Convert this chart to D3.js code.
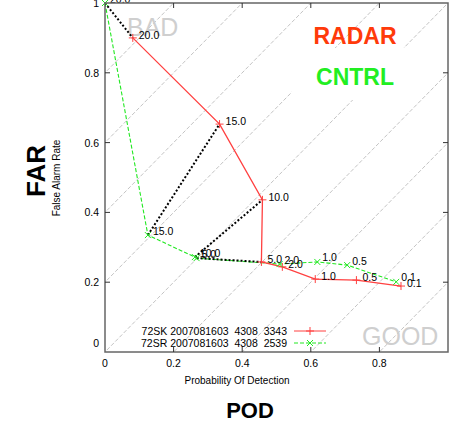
<!DOCTYPE html>
<html lang="en">
<head>
<meta charset="UTF-8">
<title>POD / FAR</title>
<script src="https://d3js.org/d3.v7.min.js"></script>
<style>
  body { margin: 0; background: #fff; }
  svg { display: block; font-family: "Liberation Sans", Arial, sans-serif; }
  .pre { white-space: pre; }
</style>
</head>
<body>
<div id="chart"></div>
<script>
// thresholds for the labels on each point
const thresholds = ["20.0", "15.0", "10.0", "5.0", "2.0", "1.0", "0.5", "0.1"];
// 72SK (radar) POD / FAR
const radarPOD = [0.081, 0.334, 0.459, 0.456, 0.517, 0.613, 0.733, 0.863];
const radarFAR = [0.900, 0.653, 0.436, 0.258, 0.244, 0.209, 0.206, 0.189];
// 72SR (control) POD / FAR
const cntrlPOD = [0.000, 0.125, 0.262, 0.267, 0.509, 0.619, 0.706, 0.849];
const cntrlFAR = [1.000, 0.335, 0.272, 0.269, 0.252, 0.258, 0.249, 0.201];
const ticks = [0, 0.2, 0.4, 0.6, 0.8, 1];
const diagOffsets = [0.8, 0.6, 0.4, 0.2, 0, -0.2, -0.4, -0.6, -0.8];
const legendLabels = ["72SK 2007081603  4308  3343", "72SR 2007081603  4308  2539"];

const W = 451, H = 435;
const pLeft = 105, pRight = 448, pTop = 3, pBottom = 352;
const redCol = "#ff4040", greenCol = "#22e822";

const x = d3.scaleLinear().domain([0, 1]).range([pLeft, pRight]);
const y = d3.scaleLinear().domain([0, 1]).range([pBottom, pTop]);

const svg = d3.select("#chart").append("svg").attr("width", W).attr("height", H);

svg.append("defs").append("clipPath").attr("id", "clip")
  .append("rect").attr("x", pLeft).attr("y", pTop).attr("width", pRight - pLeft).attr("height", pBottom - pTop);

const plot = svg.append("g").attr("clip-path", "url(#clip)");

// diagonal guide lines
diagOffsets.forEach(c => {
  plot.append("line")
    .attr("x1", x(-1)).attr("y1", y(-1 + c))
    .attr("x2", x(2)).attr("y2", y(2 + c))
    .attr("stroke", "#c4c4c4").attr("stroke-width", 1)
    .attr("stroke-dasharray", "4,2");
});

// BAD / GOOD text
svg.append("text").attr("x", 127).attr("y", 36).text("BAD")
  .attr("font-size", 25).attr("fill", "#cfcfcf");
svg.append("text").attr("x", 362).attr("y", 345).text("GOOD")
  .attr("font-size", 25).attr("fill", "#cfcfcf");

// white box behind CNTRL
svg.append("rect").attr("x", 292).attr("y", 48).attr("width", 126).attr("height", 52).attr("fill", "#fff");
svg.append("text").attr("x", 355).attr("y", 44).attr("text-anchor", "middle")
  .attr("font-size", 23).attr("font-weight", "bold").attr("fill", "#ff3a0a").text("RADAR");
svg.append("text").attr("x", 355).attr("y", 85).attr("text-anchor", "middle")
  .attr("font-size", 23).attr("font-weight", "bold").attr("fill", "#22ee22").text("CNTRL");

const radar = radarPOD.map((p, i) => ({ pod: p, far: radarFAR[i], t: thresholds[i] }));
const cntrl = cntrlPOD.map((p, i) => ({ pod: p, far: cntrlFAR[i], t: thresholds[i] }));

const line = d3.line().x(d => x(d.pod)).y(d => y(d.far));

// series lines
plot.append("path").datum(cntrl).attr("d", line).attr("fill", "none")
  .attr("stroke", greenCol).attr("stroke-width", 1.1).attr("stroke-dasharray", "4,2");
plot.append("path").datum(radar).attr("d", line).attr("fill", "none")
  .attr("stroke", redCol).attr("stroke-width", 1.3);

// dotted links between matching thresholds
radar.slice(0, 4).forEach((d, i) => {
  svg.append("line")
    .attr("x1", x(cntrl[i].pod)).attr("y1", y(cntrl[i].far))
    .attr("x2", x(d.pod)).attr("y2", y(d.far))
    .attr("stroke", "#000").attr("stroke-width", 2).attr("stroke-dasharray", "2,2");
});

function plus(g, cx, cy, col) {
  g.append("path").attr("d", `M${cx - 4},${cy}H${cx + 4}M${cx},${cy - 4}V${cy + 4}`)
    .attr("stroke", col).attr("stroke-width", 1);
}
function cross(g, cx, cy, col) {
  g.append("path").attr("d", `M${cx - 3},${cy - 3}L${cx + 3},${cy + 3}M${cx - 3},${cy + 3}L${cx + 3},${cy - 3}`)
    .attr("stroke", col).attr("stroke-width", 1);
}

radar.forEach(d => plus(svg, x(d.pod), y(d.far), redCol));
cntrl.forEach(d => cross(svg, x(d.pod), y(d.far), greenCol));

// point labels
const labelG = svg.append("g").attr("font-size", 10.5).attr("fill", "#000");
cntrl.forEach(d => {
  labelG.append("text").attr("x", x(d.pod) + 5).attr("y", y(d.far) - 0.5).text(d.t);
});
radar.forEach(d => {
  labelG.append("text").attr("x", x(d.pod) + 6).attr("y", y(d.far) + 1).text(d.t);
});

// frame
svg.append("rect").attr("x", pLeft).attr("y", pTop).attr("width", pRight - pLeft).attr("height", pBottom - pTop)
  .attr("fill", "none").attr("stroke", "#666").attr("stroke-width", 1.5);

// ticks (inward, all sides)
const tg = svg.append("g").attr("stroke", "#333").attr("stroke-width", 1);
ticks.slice(1, -1).forEach(t => {
  tg.append("line").attr("x1", x(t)).attr("x2", x(t)).attr("y1", pBottom).attr("y2", pBottom - 5);
  tg.append("line").attr("x1", x(t)).attr("x2", x(t)).attr("y1", pTop).attr("y2", pTop + 5);
  tg.append("line").attr("y1", y(t)).attr("y2", y(t)).attr("x1", pLeft).attr("x2", pLeft + 5);
  tg.append("line").attr("y1", y(t)).attr("y2", y(t)).attr("x1", pRight).attr("x2", pRight - 5);
});

// axis tick labels
const fmt = d => d === 0 ? "0" : d === 1 ? "1" : d3.format(".1f")(d);
ticks.slice(0, -1).forEach(t => {
  svg.append("text").attr("x", x(t)).attr("y", 367).attr("text-anchor", "middle")
    .attr("font-size", 10.5).text(fmt(t));
});
ticks.forEach(t => {
  svg.append("text").attr("x", 99).attr("y", t === 0 ? y(t) - 5 : y(t) + 4).attr("text-anchor", "end")
    .attr("font-size", 10.5).text(fmt(t));
});

// axis titles
svg.append("text").attr("x", 237).attr("y", 384).attr("text-anchor", "middle")
  .attr("font-size", 10).text("Probability Of Detection");
svg.append("text").attr("transform", "translate(60,178) rotate(-90)").attr("text-anchor", "middle")
  .attr("font-size", 10).text("False Alarm Rate");
svg.append("text").attr("transform", "translate(45,171) rotate(-90)").attr("text-anchor", "middle")
  .attr("font-size", 26).attr("font-weight", "bold").text("FAR");
svg.append("text").attr("x", 250).attr("y", 418).attr("text-anchor", "middle")
  .attr("font-size", 22).attr("font-weight", "bold").text("POD");

// legend
const lg = svg.append("g").attr("font-size", 10.5);
legendLabels.forEach((txt, i) => {
  const ly = 331 + i * 12;
  lg.append("text").attr("class", "pre").attr("xml:space", "preserve")
    .attr("x", 287).attr("y", ly + 4).attr("text-anchor", "end").text(txt);
  lg.append("line").attr("x1", 294).attr("x2", 326).attr("y1", ly).attr("y2", ly)
    .attr("stroke", i === 0 ? redCol : greenCol).attr("stroke-width", 1)
    .attr("stroke-dasharray", i === 0 ? null : "4,2");
  if (i === 0) plus(lg, 310, ly, redCol); else cross(lg, 310, ly, greenCol);
});
</script>
</body>
</html>
